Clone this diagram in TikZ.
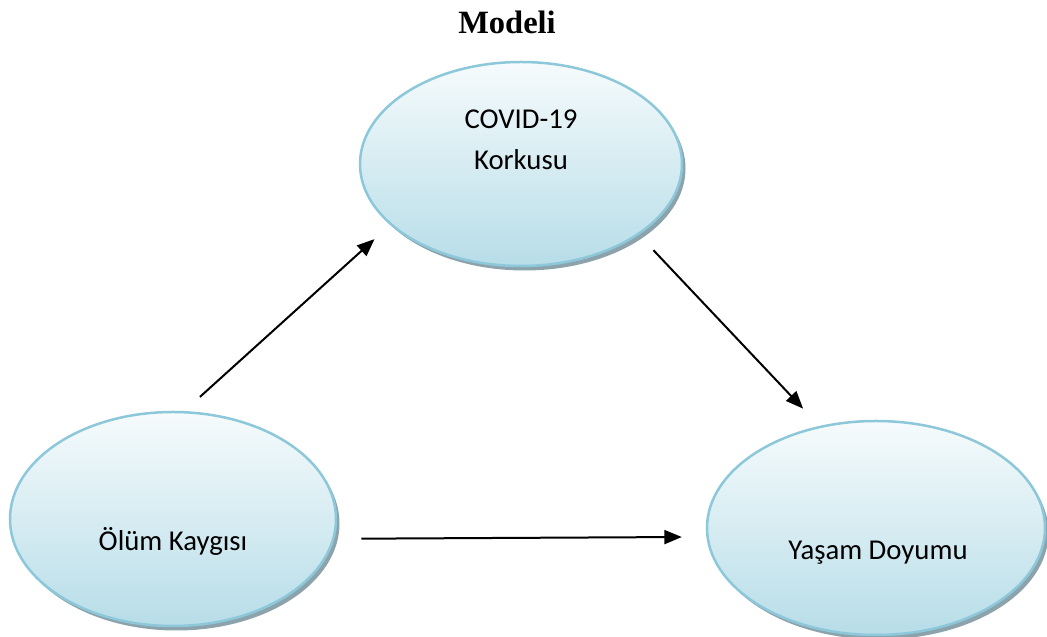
\documentclass[tikz,border=0pt]{standalone}
\usepackage{fontspec}
\setmainfont{Carlito}
\newfontfamily\titlefont{Liberation Serif}
\usepackage{tikz}
\usetikzlibrary{arrows.meta,positioning,shapes.geometric,shadows}

\definecolor{ovaltop}{RGB}{246,251,252}
\definecolor{ovalbot}{RGB}{183,221,232}
\definecolor{ovalline}{RGB}{140,200,218}
\definecolor{ovalshadow}{RGB}{140,163,172}

\begin{document}
\begin{tikzpicture}[
  x=0.4pt, y=-0.4pt,
  oval/.style={ellipse, draw=ovalline, line width=1pt, inner sep=0pt,
               top color=ovaltop, bottom color=ovalbot,
               drop shadow={shadow xshift=1.4pt, shadow yshift=-1.8pt,
                            fill=ovalshadow, opacity=1}},
  label/.style={font=\fontsize{11.5}{16.4}\selectfont, anchor=base, align=center},
  arrow/.style={-{Triangle[length=7pt, width=5.6pt]}, line width=0.8pt}
]
  \useasboundingbox (0,0) rectangle (1047,637);

  \node[font=\titlefont\bfseries\fontsize{13}{15}\selectfont, anchor=base] (title) at (507,34) {Modeli};

  \node[oval, minimum width=128.8pt, minimum height=81.6pt] (covid) at (521,164) {};
  \node[oval, minimum width=130.4pt, minimum height=85.6pt] (olum) at (173,519) {};
  \node[oval, minimum width=135.2pt, minimum height=85.6pt] (yasam) at (876,528) {};

  \node[label] (covidtext) at (521,170) {COVID-19\\Korkusu};
  \node[label] (olumtext) at (173,551) {Ölüm Kaygısı};
  \node[label] (yasamtext) at (878,560) {Yaşam Doyumu};

  \draw[arrow, shorten <=8.4pt, shorten >=8.4pt] (olum.84) -- (covid.205);
  \draw[arrow, shorten <=8.4pt, shorten >=9.5pt] (covid.-31) -- (yasam.119);
  \draw[arrow, shorten <=10.8pt, shorten >=9.8pt] (olum.-7) -- (yasam.183);
\end{tikzpicture}
\end{document}
